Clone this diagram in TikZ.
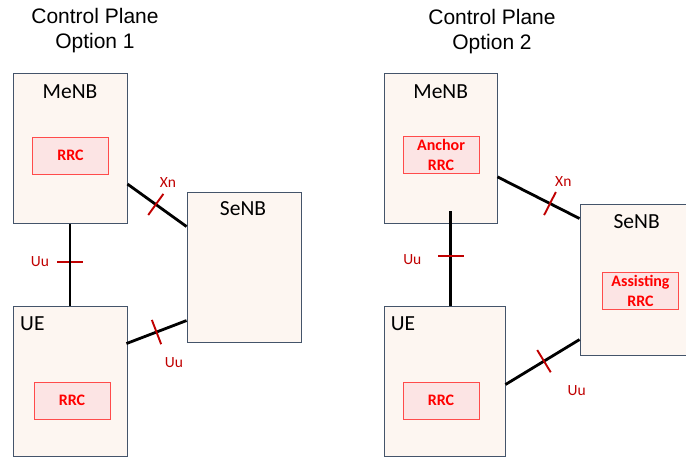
\documentclass[tikz,border=0pt]{standalone}
\usepackage{fontspec}
\setmainfont{Carlito}
\newfontfamily\titlefont{Liberation Sans}
\usetikzlibrary{calc}

\definecolor{boxfill}{HTML}{FDF6F1}
\definecolor{boxline}{HTML}{44546A}
\definecolor{rrcfill}{HTML}{FCE4E4}
\definecolor{rrcline}{HTML}{FF4B4B}
\definecolor{rrctext}{HTML}{FF0000}
\definecolor{ifred}{HTML}{C00000}

\tikzset{
  enb/.style={draw=boxline, fill=boxfill, line width=0.9pt, inner sep=0pt,
    minimum width=114pt, minimum height=150pt},
  rrc/.style={draw=rrcline, fill=rrcfill, line width=0.9pt, inner sep=0pt,
    minimum width=76pt, minimum height=37pt, text=rrctext, align=center,
    font=\fontsize{16}{20}\selectfont\bfseries},
  boxlabel/.style={anchor=base, inner sep=0pt, font=\fontsize{21.5}{25}\selectfont},
  link/.style={line width=2.8pt, black},
  ifmark/.style={sloped, shape=rectangle, fill=ifred, draw=none,
    minimum height=26pt, minimum width=1.9pt, inner sep=0pt},
  iflabel/.style={text=ifred, inner sep=0pt, font=\fontsize{15.5}{18}\selectfont},
  title/.style={anchor=north, align=center, inner sep=0pt,
    font=\titlefont\fontsize{21}{25.5}\selectfont}
}

\begin{document}
\begin{tikzpicture}[x=1pt,y=-1pt]
\useasboundingbox (0,0) rectangle (686,457);
\clip (0,0) rectangle (686,457);

% ---------- Option 1 ----------
\node[title] (t1) at (95,8) {Control Plane\\Option 1};

\node[enb] (M1) at (70,148.5) {};
\node[enb] (S1) at (244,267) {};
\node[enb] (U1) at (70,381) {};

\node[boxlabel] (M1l) at (70,98.3) {MeNB};
\node[boxlabel] (S1l) at (243,216) {SeNB};
\node[boxlabel, anchor=base west] (U1l) at (20,330.7) {UE};

\node[rrc] (M1r) at (70.5,155.5) {RRC};
\node[rrc] (U1r) at (72,400.5) {RRC};

\draw[link] ($(M1.north east)+(0,111)$) -- node[ifmark, pos=.48] (x1m) {} ($(S1.north west)+(0,35)$);
% the Uu mark on this link sits under the line
\path (M1.south) -- node[ifmark, pos=.467] (u1m) {} (U1.north);
\draw[link] (M1.south) -- (U1.north);
\draw[link] ($(U1.north east)+(-1,38)$) -- node[ifmark, pos=.5] (u1bm) {} ($(S1.north west)+(0,129)$);

\node[iflabel] (x1) at (168,183) {Xn};
\node[iflabel] (u1) at (40,262) {Uu};
\node[iflabel] (u1b) at (174,363) {Uu};

% ---------- Option 2 ----------
\node[title] (t2) at (492,9) {Control Plane\\Option 2};

\node[enb, minimum width=113pt] (M2) at (440.5,148.3) {};
\node[enb, minimum height=151pt] (S2) at (637,279.5) {};
\node[enb, minimum width=121pt] (U2) at (444.5,381) {};

\node[boxlabel] (M2l) at (440.7,98.3) {MeNB};
\node[boxlabel] (S2l) at (636.7,228.3) {SeNB};
\node[boxlabel, anchor=base west] (U2l) at (390.7,330.7) {UE};

\node[rrc] (M2r) at (441,155.2) {Anchor\\RRC};
\node[rrc] (S2r) at (640.5,290.5) {Assisting\\RRC};
\node[rrc] (U2r) at (441,400.5) {RRC};

\draw[link] ($(M2.north east)+(0,104)$) -- node[ifmark, pos=.64] (x2m) {} ($(S2.north west)+(0,15)$);
\draw[link] ($(M2.south west)+(67,-12.5)$) -- node[ifmark, pos=.475] (u2m) {} ($(U2.north west)+(67,0)$);
\draw[link] ($(U2.north east)+(0,79)$) -- node[ifmark, pos=.52] (u2bm) {} ($(S2.north west)+(0,136)$);

\node[iflabel] (x2) at (563.3,182) {Xn};
\node[iflabel] (u2) at (412.3,259.3) {Uu};
\node[iflabel] (u2b) at (576.7,391) {Uu};
\end{tikzpicture}
\end{document}
